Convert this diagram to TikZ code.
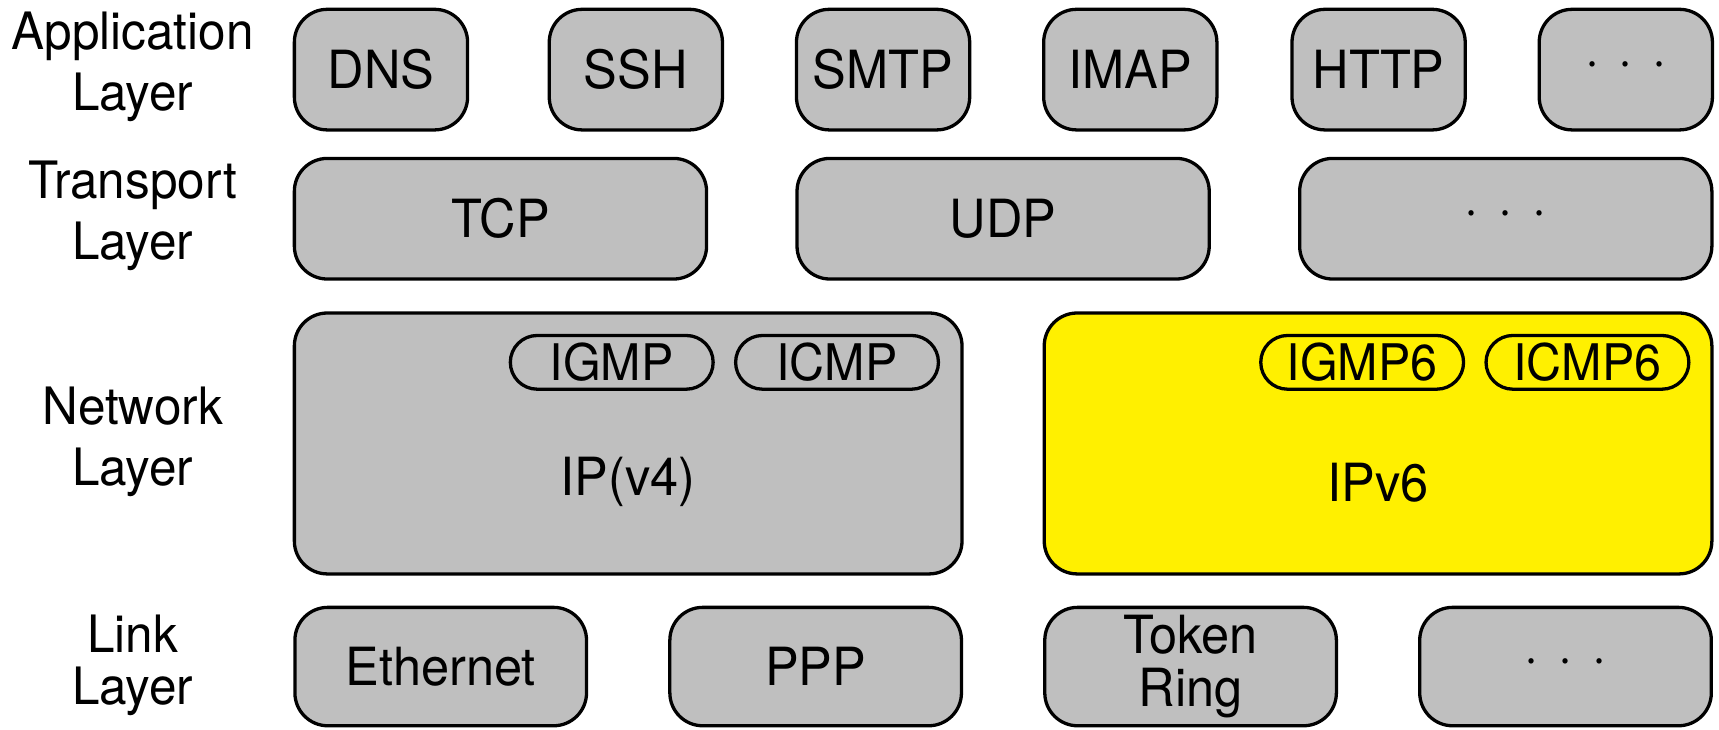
\documentclass[tikz,border=0pt]{standalone}
\usepackage{fontspec}
\setmainfont[FakeStretch=0.96]{TeX Gyre Heros}
\usetikzlibrary{shapes.misc}
\definecolor{boxgray}{RGB}{191,191,191}
\definecolor{ipyellow}{RGB}{255,240,0}
\newcommand{\moredots}{\textperiodcentered\hspace{9pt}\textperiodcentered\hspace{9pt}\textperiodcentered}
\tikzset{
  layerbox/.style={draw=black, line width=1.5pt, rounded corners=15pt, fill=boxgray,
    inner sep=0pt, font=\fontsize{24}{27}\selectfont, align=center},
  protobox/.style={draw=black, line width=1.5pt, rounded rectangle, fill=none,
    inner sep=0pt, minimum height=24.5pt, font=\fontsize{23}{24}\selectfont},
  layerlabel/.style={font=\fontsize{23.5}{27.5}\selectfont, align=center}
}
\begin{document}
\begin{tikzpicture}[x=0.5pt, y=-0.5pt]
  \useasboundingbox (0,0) rectangle (1568,665);

  % layer names
  \node[layerlabel] (lapp)  at (121,61)  {Application\\Layer};
  \node[layerlabel] (ltra)  at (121,197) {Transport\\Layer};
  \node[layerlabel] (lnet)  at (121,403) {Network\\Layer};
  \node[layerlabel, font=\fontsize{23.5}{24}\selectfont] (llink) at (121,607) {Link\\Layer};

  % application layer
  \foreach \name/\cx/\txt in {dns/347.5/DNS, ssh/580/SSH, smtp/805.5/SMTP,
      imap/1031/IMAP, http/1257.5/HTTP, appmore/1483/\moredots}
    \node[layerbox, minimum width=79pt, minimum height=55pt] (\name) at (\cx,63.5) {\txt};

  % transport layer
  \foreach \name/\cx/\txt in {tcp/456.5/TCP, udp/915/UDP, tramore/1373.5/\moredots}
    \node[layerbox, minimum width=188pt, minimum height=55pt] (\name) at (\cx,199.5) {\txt};

  % network layer
  \node[layerbox, minimum width=304.5pt, minimum height=119pt] (ipv4) at (573,404.5) {};
  \node[font=\fontsize{24}{27}\selectfont] (ipv4txt) at (573,440) {IP(v4)};
  \node[layerbox, fill=ipyellow, minimum width=304.5pt, minimum height=119pt] (ipv6) at (1257,404.5) {};
  \node[font=\fontsize{24}{27}\selectfont] (ipv6txt) at (1257,440) {IPv6};

  \node[protobox, minimum width=92.5pt] (igmp)  at (558,330.5)  {IGMP};
  \node[protobox, minimum width=92.5pt] (icmp)  at (763.5,330.5) {ICMP};
  \node[protobox, minimum width=92.5pt] (igmp6) at (1242.5,330.5) {IGMP6};
  \node[protobox, minimum width=92.5pt] (icmp6) at (1448,330.5)  {ICMP6};

  % link layer
  \foreach \name/\cx/\txt in {eth/402/Ethernet, ppp/744/PPP, token/1086/{Token\\Ring}, linkmore/1428/\moredots}
    \node[layerbox, font=\fontsize{24}{24}\selectfont, minimum width=133pt, minimum height=54pt] (\name) at (\cx,608) {\txt};
\end{tikzpicture}
\end{document}
